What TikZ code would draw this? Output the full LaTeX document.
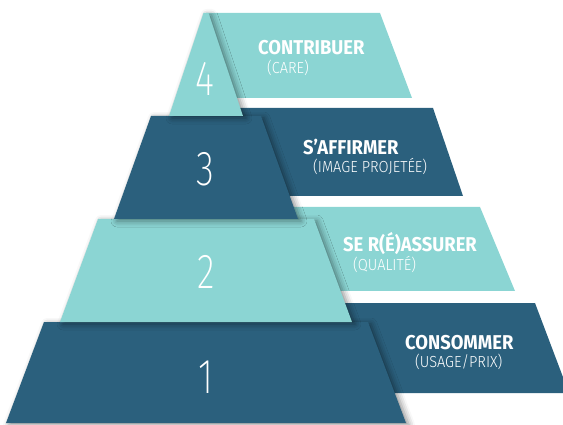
\documentclass[tikz,border=0pt]{standalone}
\usepackage{fontspec}
\setmainfont{Fira Sans}
\newfontfamily\titlefont{Fira Sans Bold}[FakeStretch=0.92]
\newfontfamily\notefont{Fira Sans Light}[FakeStretch=0.91]
\newfontfamily\numfont{Fira Sans ExtraLight}[FakeStretch=0.75]
\usepackage{tikz}
\usetikzlibrary{shadows.blur}

\definecolor{deepteal}{HTML}{2B607D}
\definecolor{paleteal}{HTML}{8BD5D3}

\begin{document}
\begin{tikzpicture}[x=1pt, y=-1pt,
        % pyramid tiers and the bands behind them
        tier/.style={fill=#1, blur shadow={shadow xshift=3pt, shadow yshift=-2pt, shadow blur radius=6pt, shadow opacity=45}},
        band/.style={fill=#1},
        % texts
        level_title/.style={anchor=base west, inner sep=0pt, text=white, font=\titlefont\fontsize{20}{20}\selectfont},
        level_note/.style={anchor=base west, inner sep=0pt, text=white, font=\notefont\fontsize{16}{16}\selectfont},
        level_num/.style={inner sep=0pt, text=white, font=\numfont\fontsize{49}{49}\selectfont},
    ]
    \useasboundingbox (0,0) rectangle (563,425);

    % Bands behind the pyramid
    \path[band=deepteal] (206,303) -- (535,303) -- (569,393) -- (206,393) -- cycle;
    \path[band=paleteal] (206,207) -- (480,207) -- (515,291) -- (206,291) -- cycle;
    \path[band=deepteal] (206,108) -- (433,108) -- (463,196) -- (206,196) -- cycle;
    \path[band=paleteal] (206,13) -- (380,13) -- (412,98) -- (206,98) -- cycle;

    % Pyramid, bottom tier first
    \path[tier=deepteal] (44,322) -- (368,322) -- (406,423) -- (6,423) -- cycle;
    \path[tier=paleteal] (98,219) -- (314,219) -- (352,322) -- (60,322) -- cycle;
    \path[tier=deepteal] (151,116) -- (261,116) -- (298,219) -- (114,219) -- cycle;
    \path[tier=paleteal] (203.5,13) -- (208.5,13) -- (243,116) -- (169,116) -- cycle;

    % Level numbers
    \node (num_four) [level_num] at (205,79) {4};
    \node (num_three) [level_num] at (205,169) {3};
    \node (num_two) [level_num] at (206,272) {2};
    \node (num_one) [level_num] at (206,377) {1};

    % Level titles and notes
    \node (contribuer) [level_title] at (258,55) {CONTRIBUER};
    \node (care) [level_note] at ([xshift=9pt, yshift=-19pt]contribuer.base west) {(CARE)};

    \node (affirmer) [level_title] at (303,155) {S’AFFIRMER};
    \node (image) [level_note] at ([xshift=10pt, yshift=-18pt]affirmer.base west) {(IMAGE PROJETÉE)};

    \node (rassurer) [level_title] at (343,252) {SE R(É)ASSURER};
    \node (qualite) [level_note] at ([xshift=10pt, yshift=-18pt]rassurer.base west) {(QUALITÉ)};

    \node (consommer) [level_title] at (405,349) {CONSOMMER};
    \node (usage) [level_note] at ([xshift=10pt, yshift=-18pt]consommer.base west) {(USAGE/PRIX)};

\end{tikzpicture}
\end{document}
